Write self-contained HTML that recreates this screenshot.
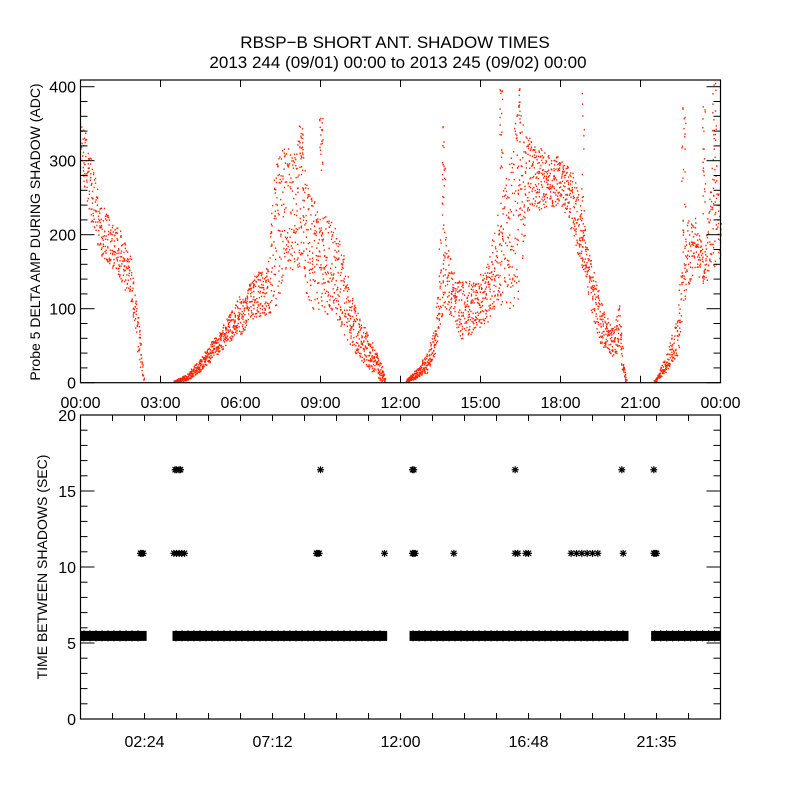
<!DOCTYPE html>
<html><head><meta charset="utf-8"><style>
html,body{margin:0;padding:0;background:#fff;width:800px;height:800px;overflow:hidden}
svg{display:block;font-family:"Liberation Sans",sans-serif}
</style></head><body>
<svg id="c" width="800" height="800" viewBox="0 0 800 800">
<rect width="800" height="800" fill="#fff"/>
<text x="395" y="48" font-size="17" text-anchor="middle">RBSP−B SHORT ANT. SHADOW TIMES</text>
<text x="398" y="68" font-size="17" text-anchor="middle">2013 244 (09/01) 00:00 to 2013 245 (09/02) 00:00</text>
<g id="topPanel"></g>
<g id="botPanel"></g>
</svg>
<script>
// ---- top panel data: bands (hours, low ADC, high ADC) ----
const segA_t=[0,0.75,1.5,1.87,2.06,2.25,2.35];
const segA_lo=[278,167,135,113,55,15,0];
const segA_hi=[362,242,202,167,122,55,10];
const segB_t=[3.5,4.0,4.5,5.0,5.5,6.0,6.5,7.0,7.3,7.75,8.25,8.6,9.0,9.5,9.9,10.4,10.9,11.3,11.4];
const segB_lo=[0,2,15,33,51,64,87,91,100,158,140,100,87,96,60,33,15,0,0];
const segB_hi=[2,11,33,60,87,118,144,158,304,322,327,255,233,211,167,91,55,20,8];
const segC_t=[12.2,12.5,13.0,13.3,13.56,13.9,14.25,14.75,15.25,15.6,16.0,16.4,16.75,17.5,18.0,18.4,18.75,19.1,19.5,19.9,20.2,20.35,20.45];
const segC_lo=[0,4,13,40,90,90,58,67,80,107,98,107,233,233,242,206,161,98,49,35,40,8,0];
const segC_hi=[3,13,40,80,250,150,143,134,161,220,287,377,332,310,305,287,242,175,107,71,107,26,10];
const segD_t=[21.5,21.56,22.0,22.4,22.6,23.06,23.37,23.75,24.0];
const segD_lo=[0,0,17,35,107,152,130,152,170];
const segD_hi=[2,5,40,98,220,224,166,320,220];
const sparse_t=[8.25,9.0,13.6,15.75,16.4,18.8,22.6,23.37,23.75];
const sparse_lo=[300,280,230,287,300,150,200,200,300];
const sparse_hi=[350,360,350,409,409,405,380,390,409];
// ---- bottom panel data ----
const bandStart=[0,3.45,12.34,21.4];
const bandEnd=[2.48,11.5,20.55,24];
const bandValue=5.5;
const star11Times=[2.25,2.3,2.35,3.5,3.6,3.7,3.8,3.9,8.85,8.9,8.95,11.4,12.45,12.5,12.55,14.0,16.3,16.4,16.7,16.8,18.4,18.6,18.8,19.0,19.2,19.4,20.35,21.5,21.55,21.6];
const star11Value=10.9;
const star16Times=[3.55,3.6,3.7,3.75,9.0,12.45,12.5,16.3,20.3,21.5];
const star16Value=16.4;

const NS='http://www.w3.org/2000/svg';
function mk(tag,attrs,parent){const e=document.createElementNS(NS,tag);for(const k in attrs)e.setAttribute(k,attrs[k]);parent.appendChild(e);return e;}
const X0=80.5,X1=720.5;
const xs=h=>X0+h*(X1-X0)/24;
const T_Y0=382.7,T_Y1=80;
const ty=v=>T_Y0-v*0.74;
const B_Y0=719,B_Y1=415;
const by=v=>B_Y0-v*(B_Y0-B_Y1)/20;
function interp(ts,vs,t){for(let i=0;i<ts.length-1;i++){if(t>=ts[i]&&t<=ts[i+1]){const f=(t-ts[i])/(ts[i+1]-ts[i]||1);return vs[i]+f*(vs[i+1]-vs[i]);}}return vs[vs.length-1];}
function hash(n){let x=Math.sin(n*12.9898+78.233)*43758.5453;return x-Math.floor(x);}

const topG=document.getElementById('topPanel');
const botG=document.getElementById('botPanel');

let seed=1;
function drawBand(ts,lo,hi,perPx,name){
  const g=mk('g',{fill:'#ff2200'},topG);
  
  
  const step=1/(perPx*26.667);
  for(let t=ts[0];t<=ts[ts.length-1];t+=step){
    const l=interp(ts,lo,t),u=interp(ts,hi,t);
    const v=l+hash(seed++)*(u-l);
    const y=ty(v);
    if(y<T_Y1+1)continue;
    mk('rect',{x:(xs(t)+(hash(seed++)-0.5)*1.5).toFixed(1),y:(y-1).toFixed(1),width:1.3,height:1.5},g);
  }
}
drawBand(segA_t,segA_lo,segA_hi,6,'series-pass-1');
drawBand(segB_t,segB_lo,segB_hi,7,'series-pass-2');
drawBand(segC_t,segC_lo,segC_hi,7,'series-pass-3');
drawBand(segD_t,segD_lo,segD_hi,6,'series-pass-4');
for(let i=0;i<sparse_t.length;i++){
  const g=mk('g',{fill:'#ff2200'},topG);
  
  
  for(let k=0;k<20;k++){const v=sparse_lo[i]+hash(seed++)*(sparse_hi[i]-sparse_lo[i]);const y=ty(v);if(y<T_Y1+1)continue;
    mk('rect',{x:(xs(sparse_t[i])+(hash(seed++)-0.5)*4).toFixed(1),y:(y-1).toFixed(1),width:1.3,height:1.5},g);}
}

// top axes
const tf=mk('rect',{x:X0,y:T_Y1,width:X1-X0,height:T_Y0-T_Y1,fill:'none',stroke:'#000','stroke-width':1.2},topG);


for(let v=0;v<=400;v+=20){const major=v%100===0;const L=major?14:7;const y=ty(v);
  mk('line',{x1:X0,x2:X0+L,y1:y,y2:y,stroke:'#000'},topG);mk('line',{x1:X1,x2:X1-L,y1:y,y2:y,stroke:'#000'},topG);
  if(major){const t=mk('text',{x:76,y:y+6,'font-size':16,'text-anchor':'end'},topG);t.textContent=v;
    
    }}
const topXLabels=['00:00','03:00','06:00','09:00','12:00','15:00','18:00','21:00','00:00'];
for(let i=0;i<topXLabels.length;i++){const x=xs(i*3);
  mk('line',{x1:x,x2:x,y1:T_Y0,y2:T_Y0-7,stroke:'#000'},topG);mk('line',{x1:x,x2:x,y1:T_Y1,y2:T_Y1+7,stroke:'#000'},topG);
  const t=mk('text',{x:x,y:408,'font-size':16,'text-anchor':'middle'},topG);t.textContent=topXLabels[i];
  
  }
const tt=mk('text',{x:0,y:0,'font-size':14,'text-anchor':'middle',transform:'translate(40,232) rotate(-90)'},topG);
tt.textContent='Probe 5 DELTA AMP DURING SHADOW (ADC)';



// bottom stars
function star(x,y,g){const s=3.5;const d=`M${x-s},${y}H${x+s}M${x},${y-s}V${y+s}M${x-2.6},${y-2.6}L${x+2.6},${y+2.6}M${x-2.6},${y+2.6}L${x+2.6},${y-2.6}`;mk('path',{d:d},g);}
const sg=mk('g',{stroke:'#000','stroke-width':1.2,fill:'none'},botG);


for(let i=0;i<bandStart.length;i++){
  const x0=xs(bandStart[i])+3.5,x1=xs(bandEnd[i])-3.5;
  const r=mk('rect',{x:xs(bandStart[i]),y:by(bandValue)-4.5,width:xs(bandEnd[i])-xs(bandStart[i]),height:10,fill:'#000',stroke:'none'},botG);
  
  
  for(let x=x0;x<=x1;x+=6){star(x,by(bandValue)-1.5,sg);star(x,by(bandValue)+2.5,sg);}
}
star11Times.forEach(t=>star(xs(t),by(star11Value),sg));
star16Times.forEach(t=>star(xs(t),by(star16Value),sg));

// bottom axes
const bf=mk('rect',{x:X0,y:B_Y1,width:X1-X0,height:B_Y0-B_Y1,fill:'none',stroke:'#000','stroke-width':1.2},botG);


for(let v=0;v<=20;v++){const major=v%5===0;const L=major?14:7;const y=by(v);
  mk('line',{x1:X0,x2:X0+L,y1:y,y2:y,stroke:'#000'},botG);mk('line',{x1:X1,x2:X1-L,y1:y,y2:y,stroke:'#000'},botG);
  if(major){const t=mk('text',{x:76,y:y+6,'font-size':16,'text-anchor':'end'},botG);t.textContent=v;
    
    }}
for(let i=0;i<=20;i++){const x=xs(i*1.2);
  mk('line',{x1:x,x2:x,y1:B_Y0,y2:B_Y0-6,stroke:'#000'},botG);mk('line',{x1:x,x2:x,y1:B_Y1,y2:B_Y1+6,stroke:'#000'},botG);}
const botXLabels=['02:24','07:12','12:00','16:48','21:35'];
const botXPos=[2.4,7.2,12,16.8,21.6];
for(let i=0;i<botXLabels.length;i++){const t=mk('text',{x:xs(botXPos[i]),y:747,'font-size':16,'text-anchor':'middle'},botG);t.textContent=botXLabels[i];
  
  }
const bt=mk('text',{x:0,y:0,'font-size':14,'text-anchor':'middle',transform:'translate(47,567) rotate(-90)'},botG);
bt.textContent='TIME BETWEEN SHADOWS (SEC)';


</script>
</body></html>
